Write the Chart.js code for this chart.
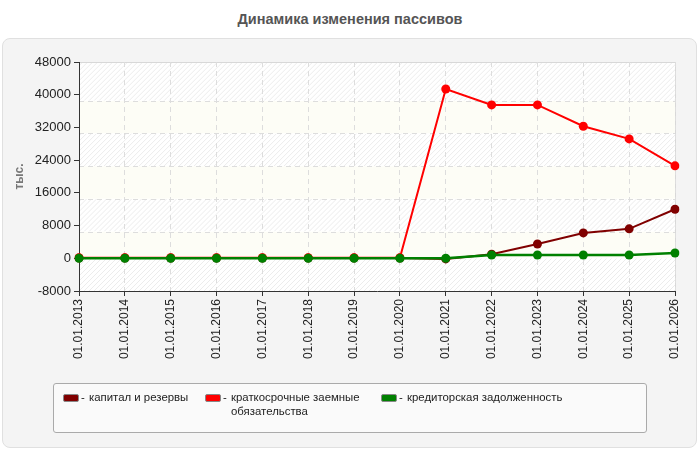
<!DOCTYPE html>
<html>
<head>
<meta charset="utf-8">
<script src="https://cdn.jsdelivr.net/npm/chart.js@4/dist/chart.umd.min.js"></script>
<style>
  body { margin: 0; background: #fff; font-family: "Liberation Sans", Arial, sans-serif; }
  #wrap { position: relative; width: 700px; height: 450px; overflow: hidden; }
  #title { position: absolute; left: 0; top: 11px; width: 700px; text-align: center;
           font-weight: bold; font-size: 14.5px; color: #555; }
  #panel { position: absolute; left: 2px; top: 38px; width: 693px; height: 408px;
           background: #f4f4f4; border: 1px solid #e0e0e0; border-radius: 8px; }
  #chart { position: absolute; left: 0; top: 0; }
  #legend { position: absolute; left: 53px; top: 383px; width: 592px; height: 48px;
            background: #fafafa; border: 1px solid #aaa; border-radius: 3px; }
  .sw { position: absolute; top: 10px; width: 14px; height: 6px; border: 1px solid #888; border-radius: 2px; }
  .lt { position: absolute; top: 6px; font-size: 11.4px; color: #222; line-height: 14px; }
</style>
</head>
<body>
<div id="wrap">
  <div id="panel"></div>
  <div id="title">Динамика изменения пассивов</div>
  <canvas id="chart" width="700" height="450"></canvas>
  <div id="legend"></div>
</div>
<script>
const labels = ['01.01.2013', '01.01.2014', '01.01.2015', '01.01.2016', '01.01.2017', '01.01.2018', '01.01.2019',
                '01.01.2020', '01.01.2021', '01.01.2022', '01.01.2023', '01.01.2024', '01.01.2025', '01.01.2026'];
const capital = [50, 50, 50, 50, 50, 50, 50, 50, -150, 1000, 3500, 6200, 7200, 12000];
const shortLoans = [150, 150, 150, 150, 150, 150, 150, 150, 41400, 37500, 37500, 32300, 29200, 22600];
const creditors = [0, 0, 0, 0, 0, 0, 0, 0, 0, 800, 800, 800, 800, 1300];
const yTicks = [-8000, 0, 8000, 16000, 24000, 32000, 40000, 48000];

const seriesNames = ['капитал и резервы', 'краткосрочные заемные обязательства', 'кредиторская задолженность'];
const seriesColors = ['#800000', '#ff0000', '#008000'];

// legend as html so the long name can wrap like the original
const legendPos = [{sw: 9, tx: 27, w: 120}, {sw: 151, tx: 169, w: 150}, {sw: 327, tx: 345, w: 250}];
const legend = document.getElementById('legend');
seriesNames.forEach(function (name, i) {
    const sw = document.createElement('div');
    sw.className = 'sw';
    sw.style.left = legendPos[i].sw + 'px';
    sw.style.background = seriesColors[i];
    legend.appendChild(sw);
    const dash = document.createElement('div');
    dash.className = 'lt';
    dash.style.left = legendPos[i].tx + 'px';
    dash.textContent = '-';
    legend.appendChild(dash);
    const tx = document.createElement('div');
    tx.className = 'lt';
    tx.style.left = (legendPos[i].tx + 8) + 'px';
    tx.style.width = legendPos[i].w + 'px';
    tx.textContent = name;
    legend.appendChild(tx);
});

// plot background: alternating hatched / pale bands with dashed lines
const bgPlugin = {
    id: 'bgPlugin',
    beforeDraw: function (chart) {
        const ctx = chart.ctx;
        const a = chart.chartArea;
        const y = chart.scales.y;
        const off = 6;
        const edges = [a.top];
        [40000, 32000, 24000, 16000, 8000].forEach(function (v) { edges.push(y.getPixelForValue(v) + off); });
        edges.push(y.getPixelForValue(0));
        edges.push(a.bottom);
        ctx.save();
        ctx.fillStyle = '#ffffff';
        ctx.fillRect(a.left, a.top, a.right - a.left, a.bottom - a.top);
        for (let i = 0; i < edges.length - 1; i++) {
            const t = edges[i], b = edges[i + 1];
            ctx.save();
            ctx.beginPath();
            ctx.rect(a.left, t, a.right - a.left, b - t);
            ctx.clip();
            if (i % 2 === 0) {
                ctx.strokeStyle = '#ececec';
                ctx.lineWidth = 1;
                ctx.beginPath();
                for (let x = a.left - 300; x < a.right + 300; x += 5) {
                    ctx.moveTo(x, b);
                    ctx.lineTo(x + (b - t), t);
                }
                ctx.stroke();
            } else {
                ctx.fillStyle = '#fdfdf6';
                ctx.fillRect(a.left, t, a.right - a.left, b - t);
            }
            ctx.restore();
        }
        ctx.strokeStyle = '#dddddd';
        ctx.lineWidth = 1;
        ctx.setLineDash([5, 4]);
        ctx.beginPath();
        for (let i = 1; i < edges.length - 2; i++) {
            const py = Math.round(edges[i]) + 0.5;
            ctx.moveTo(a.left, py);
            ctx.lineTo(a.right, py);
        }
        ctx.stroke();
        ctx.setLineDash([]);
        ctx.strokeStyle = '#d8d8d8';
        ctx.beginPath();
        ctx.moveTo(a.left, a.top + 0.5);
        ctx.lineTo(a.right + 0.5, a.top + 0.5);
        ctx.lineTo(a.right + 0.5, a.bottom);
        ctx.stroke();
        ctx.restore();
    }
};

function makeSet(label, values, color, width, order) {
    return {
        label: label,
        data: values,
        borderColor: color,
        backgroundColor: color,
        borderWidth: width,
        pointRadius: 4.5,
        pointHoverRadius: 4.5,
        pointBorderWidth: 0,
        tension: 0,
        order: order,
    };
}

const data = {
    labels: labels,
    datasets: [
        makeSet(seriesNames[0], capital, seriesColors[0], 2, 2),
        makeSet(seriesNames[1], shortLoans, seriesColors[1], 2, 1),
        makeSet(seriesNames[2], creditors, seriesColors[2], 2.5, 0),
    ]
};

const config = {
    type: 'line',
    data: data,
    plugins: [bgPlugin],
    options: {
        responsive: false,
        animation: false,
        layout: { padding: { left: 12, right: 25, top: 62, bottom: 79 } },
        plugins: {
            legend: { display: false },
            tooltip: { enabled: false },
        },
        scales: {
            x: {
                offset: false,
                grid: {
                    color: '#dddddd',
                    tickColor: '#333333',
                    tickLength: 5,
                    tickBorderDash: [],
                    drawOnChartArea: true,
                },
                border: { color: '#333333', width: 1, dash: [5, 4] },
                ticks: {
                    color: '#222222',
                    font: { family: '"Liberation Sans", Arial, sans-serif', size: 12 },
                    minRotation: 90,
                    maxRotation: 90,
                    autoSkip: false,
                    padding: 3,
                },
                afterFit: function (scale) { scale.height = 80; },
            },
            y: {
                min: -8000,
                max: 48000,
                afterBuildTicks: function (scale) {
                    scale.ticks = yTicks.map(function (v) { return { value: v }; });
                },
                grid: {
                    drawOnChartArea: false,
                    tickColor: '#333333',
                    tickLength: 5,
                },
                border: { color: '#333333', width: 1 },
                ticks: {
                    color: '#222222',
                    font: { family: '"Liberation Sans", Arial, sans-serif', size: 13 },
                    padding: 3,
                    callback: function (v) { return String(v); },
                },
                title: {
                    display: true,
                    text: 'тыс.',
                    color: '#777777',
                    font: { family: '"Liberation Sans", Arial, sans-serif', size: 12, weight: 'bold' },
                    padding: { top: 0, bottom: 0 },
                },
                afterFit: function (scale) { scale.width = 67; },
            }
        }
    }
};

_ = new Chart(document.getElementById('chart'), config);
</script>
</body>
</html>
